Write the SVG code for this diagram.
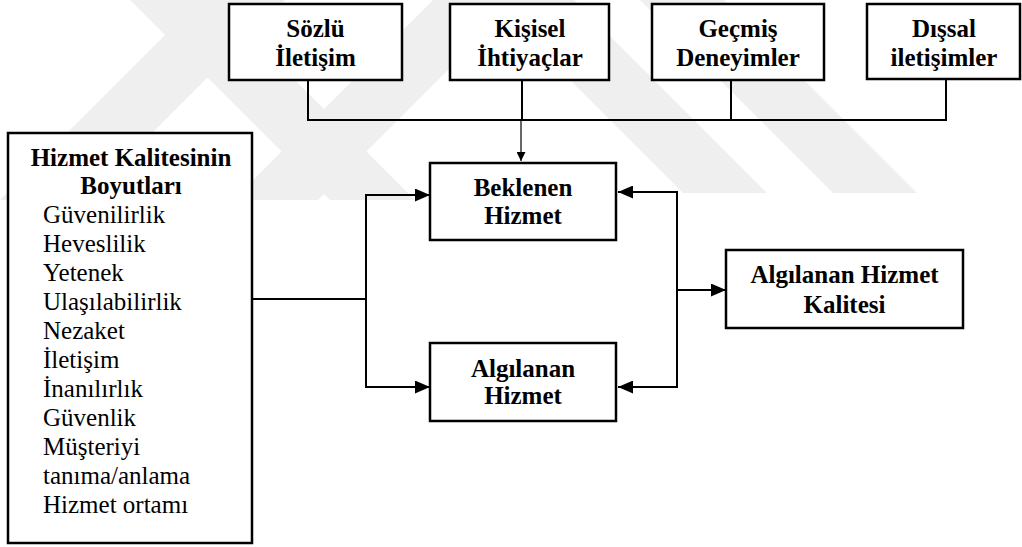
<svg xmlns="http://www.w3.org/2000/svg" width="1022" height="547" viewBox="0 0 1022 547">
<style>
.box{fill:#fff;stroke:#000;stroke-width:2.5}
.wm{fill:#efefef}
.b{font-weight:bold;font-size:25px;text-anchor:middle;fill:#000}
.r{font-size:25px;fill:#000}
.ln{fill:none;stroke:#000;stroke-width:2}
.thin{fill:none;stroke:#000;stroke-width:1.2}
</style>
<defs>
<marker id="ah" markerUnits="userSpaceOnUse" markerWidth="15" markerHeight="13" refX="15" refY="6.5" orient="auto">
<path d="M0,0 L15,6.5 L0,13 z" fill="#000"/>
</marker>
<marker id="ahs" markerUnits="userSpaceOnUse" markerWidth="9" markerHeight="9" refX="9" refY="4.5" orient="auto">
<path d="M0,0 L9,4.5 L0,9 z" fill="#000"/>
</marker>
</defs>
<rect width="1022" height="547" fill="#fff"/>
<g id="watermark">
<polygon class="wm" points="0,200 85,200 285,0 200,0"/>
<polygon class="wm" points="130,0 215,0 415,200 330,200"/>
<polygon class="wm" points="233,200 318,200 518,0 433,0"/>
<polygon class="wm" points="490,0 574,0 767,193 683,193"/>
<polygon class="wm" points="640,0 724,0 917,193 833,193"/>
</g>
<g id="connectors">
<polyline class="ln" points="308,80 308,120 946,120 946,79"/>
<line class="ln" x1="522" y1="80" x2="522" y2="120"/>
<line class="ln" x1="731" y1="80" x2="731" y2="120"/>
<line class="thin" x1="521" y1="120" x2="521" y2="161" marker-end="url(#ahs)"/>
<line class="ln" x1="252" y1="299" x2="366" y2="299"/>
<line class="ln" x1="366" y1="194" x2="366" y2="388"/>
<line class="ln" x1="365" y1="195" x2="430" y2="195" marker-end="url(#ah)"/>
<line class="ln" x1="365" y1="387" x2="430" y2="387" marker-end="url(#ah)"/>
<line class="ln" x1="677" y1="191" x2="677" y2="388"/>
<line class="ln" x1="678" y1="192" x2="618" y2="192" marker-end="url(#ah)"/>
<line class="ln" x1="678" y1="387" x2="618" y2="387" marker-end="url(#ah)"/>
<line class="ln" x1="677" y1="290" x2="726" y2="290" stroke="#333" marker-end="url(#ah)"/>
</g>
<g font-family="'Liberation Serif', 'Times New Roman', 'DejaVu Serif', serif">
<g id="sozlu">
<rect class="box" x="229" y="4" width="173" height="76"/>
<text class="b" x="315.5" y="37">Sözlü</text>
<text class="b" x="315.5" y="66">İletişim</text>
</g>
<g id="kisisel">
<rect class="box" x="450" y="4" width="159" height="76"/>
<text class="b" x="530" y="37">Kişisel</text>
<text class="b" x="530" y="66">İhtiyaçlar</text>
</g>
<g id="gecmis">
<rect class="box" x="652" y="4" width="172" height="76"/>
<text class="b" x="738" y="37">Geçmiş</text>
<text class="b" x="738" y="66">Deneyimler</text>
</g>
<g id="dissal">
<rect class="box" x="867" y="4" width="153" height="75"/>
<text class="b" x="944" y="37">Dışsal</text>
<text class="b" x="944" y="66">iletişimler</text>
</g>
<g id="boyutlar">
<rect class="box" x="8" y="133" width="244" height="410"/>
<text class="b" x="131" y="166">Hizmet Kalitesinin</text>
<text class="b" x="131" y="194">Boyutları</text>
<text class="r" x="43" y="223">Güvenilirlik</text>
<text class="r" x="43" y="252">Heveslilik</text>
<text class="r" x="43" y="281">Yetenek</text>
<text class="r" x="43" y="310">Ulaşılabilirlik</text>
<text class="r" x="43" y="339">Nezaket</text>
<text class="r" x="43" y="368">İletişim</text>
<text class="r" x="43" y="397">İnanılırlık</text>
<text class="r" x="43" y="426">Güvenlik</text>
<text class="r" x="43" y="455">Müşteriyi</text>
<text class="r" x="43" y="484">tanıma/anlama</text>
<text class="r" x="43" y="513">Hizmet ortamı</text>
</g>
<g id="beklenen">
<rect class="box" x="430" y="163" width="186" height="77"/>
<text class="b" x="523" y="196">Beklenen</text>
<text class="b" x="523" y="224">Hizmet</text>
</g>
<g id="algilanan">
<rect class="box" x="430" y="343" width="186" height="78"/>
<text class="b" x="523" y="377">Algılanan</text>
<text class="b" x="523" y="404">Hizmet</text>
</g>
<g id="kalite">
<rect class="box" x="726" y="250" width="237" height="78"/>
<text class="b" x="844.5" y="283">Algılanan Hizmet</text>
<text class="b" x="844.5" y="313">Kalitesi</text>
</g>
</g>
</svg>
